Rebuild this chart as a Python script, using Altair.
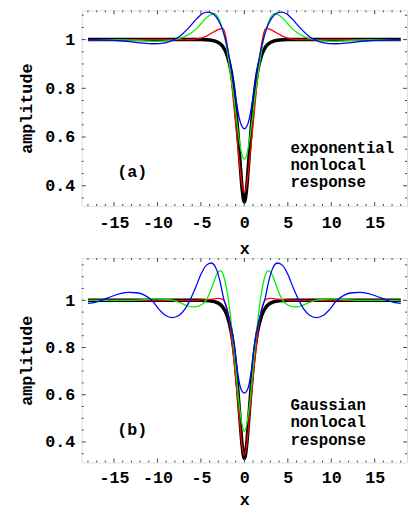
import altair as alt
import pandas as pd

# ---------------- data (x >= 0 half; curves are symmetric) ----
# panel (a): exponential nonlocal response
black_a_x = [0, 0.25, 0.5, 0.75, 1, 1.5, 2, 2.5, 3, 4, 5, 6, 18]
black_a_y = [0.333, 0.385, 0.498, 0.619, 0.723, 0.865, 0.938, 0.973, 0.988, 0.998, 1.0, 1.0, 1.0]
red_a_x = [0, 0.25, 0.5, 0.75, 1, 1.3, 1.6, 1.9, 2.2, 2.5, 2.8, 3.2, 3.6, 4.0, 4.5, 5.0, 5.5, 6.2, 18]
red_a_y = [0.37, 0.40, 0.47, 0.56, 0.65, 0.76, 0.87, 0.96, 1.022, 1.046, 1.044, 1.038, 1.030, 1.022, 1.012, 1.006, 1.002, 1.0, 1.0]
green_a_x = [0, 0.3, 0.6, 0.9, 1.2, 1.5, 1.8, 2.1, 2.5, 3.0, 3.5, 4.0, 4.5, 5.0, 5.5, 6.0, 7.0, 8.0, 9.0, 10.0, 11.0, 12.0, 14.0, 18]
green_a_y = [0.509, 0.53, 0.59, 0.67, 0.76, 0.84, 0.91, 0.98, 1.04, 1.09, 1.107, 1.10, 1.085, 1.065, 1.045, 1.03, 1.01, 1.0, 0.995, 0.993, 0.994, 0.996, 0.999, 1.0]
blue_a_x = [0, 0.3, 0.6, 0.9, 1.2, 1.5, 1.8, 2.1, 2.5, 3.0, 3.5, 4.0, 4.3, 4.8, 5.5, 6.5, 7.5, 8.2, 9.0, 10.5, 12.0, 13.5, 15.0, 16.5, 18]
blue_a_y = [0.634, 0.645, 0.68, 0.74, 0.81, 0.88, 0.94, 0.99, 1.04, 1.08, 1.103, 1.112, 1.113, 1.107, 1.085, 1.045, 1.012, 0.998, 0.988, 0.983, 0.987, 0.993, 0.997, 0.999, 1.0]

# panel (b): Gaussian nonlocal response
black_b_x = [0, 0.25, 0.5, 0.75, 1, 1.5, 2, 2.5, 3, 4, 5, 6, 18]
black_b_y = [0.33, 0.383, 0.496, 0.617, 0.722, 0.864, 0.937, 0.972, 0.988, 0.998, 1.0, 1.0, 1.0]
red_b_x = [0, 0.25, 0.5, 0.75, 1, 1.3, 1.6, 1.9, 2.2, 2.6, 3.0, 3.5, 4.5, 6, 18]
red_b_y = [0.344, 0.38, 0.47, 0.57, 0.67, 0.78, 0.88, 0.95, 0.99, 1.006, 1.008, 1.006, 1.002, 1.0, 1.0]
green_b_x = [0, 0.3, 0.6, 0.9, 1.2, 1.5, 1.8, 2.1, 2.4, 2.75, 3.1, 3.5, 4.0, 4.4, 5.0, 5.5, 6.05, 6.6, 7.3, 8.0, 9.0, 10.2, 11.5, 13, 18]
green_b_y = [0.445, 0.48, 0.56, 0.67, 0.79, 0.90, 0.99, 1.06, 1.105, 1.126, 1.115, 1.08, 1.03, 1.0, 0.98, 0.973, 0.972, 0.977, 0.988, 0.998, 1.004, 1.006, 1.003, 1.0, 1.0]
blue_b_x = [0, 0.4, 0.8, 1.2, 1.6, 2.0, 2.4, 2.8, 3.2, 3.8, 4.4, 5.0, 5.6, 6.2, 6.8, 7.5, 8.3, 9.1, 9.9, 10.6, 11.5, 12.4, 13.3, 14.3, 15.3, 16.3, 17.2, 18]
blue_b_y = [0.607, 0.625, 0.70, 0.82, 0.90, 0.96, 1.01, 1.08, 1.13, 1.158, 1.148, 1.11, 1.055, 1.005, 0.965, 0.937, 0.927, 0.937, 0.965, 0.998, 1.022, 1.032, 1.034, 1.028, 1.016, 1.002, 0.991, 0.987]

X_MAJOR = [-15, -10, -5, 0, 5, 10, 15]
X_MINOR = [-18, -17, -16, -14, -13, -12, -11, -9, -8, -7, -6, -4, -3, -2, -1,
           1, 2, 3, 4, 6, 7, 8, 9, 11, 12, 13, 14, 16, 17, 18]
Y_MAJOR = [0.4, 0.6, 0.8, 1.0]
Y_MINOR = [0.35, 0.45, 0.5, 0.55, 0.65, 0.7, 0.75, 0.85, 0.9, 0.95, 1.05, 1.1, 1.15]

tag_a = "(a)"
tag_b = "(b)"
note_a = ["exponential", "nonlocal", "response"]
note_b = ["Gaussian", "nonlocal", "response"]
tag_pos_a = (-12.9, 0.456)
tag_pos_b = (-12.9, 0.45)
note_pos_a = (5.3, 0.555)
note_pos_b = (5.3, 0.555)

CURVES = ["black", "red", "green", "blue"]
COLORS = {"black": "#000000", "red": "#ff0000", "green": "#00f000", "blue": "#0000ff"}
WIDTHS = {"black": 3.6, "red": 1.3, "green": 1.3, "blue": 1.3}

FONT = "Liberation Mono"
FRAME = "#444444"
W = 331


def mirror(xs, ys):
    X = [-v for v in reversed(xs[1:])] + list(xs)
    Y = list(reversed(ys[1:])) + list(ys)
    return X, Y


def curve_df(xs, ys):
    X, Y = mirror(xs, ys)
    return pd.DataFrame({"x": X, "y": Y})


common = dict(grid=False, domain=False, ticks=False,
              labelFont=FONT, labelFontSize=17, labelFontWeight="bold", labelColor="black",
              titleFont=FONT, titleFontSize=17, titleFontWeight="bold", titleColor="black")


def panel(curves, ydom, tag, tagp, note, notep, height, xlabel_pad, xtitle_pad):
    xs = alt.Scale(domain=[-18.72, 18.72], nice=False, zero=False)
    ys = alt.Scale(domain=ydom, nice=False, zero=False)
    layers = []
    for i, name in enumerate(CURVES):
        xs_, ys_ = curves[name]
        df = curve_df(xs_, ys_)
        if i == 0:
            xa = alt.Axis(orient="bottom", values=X_MAJOR,
                          labelPadding=xlabel_pad, title="x", titlePadding=xtitle_pad,
                          labelFlush=False, labelOverlap=False,
                          labelExpr="datum.value < 0 ? '-' + format(-datum.value, 'd') : format(datum.value, 'd')",
                          **common)
            ya = alt.Axis(orient="left", values=Y_MAJOR,
                          labelPadding=7, title="amplitude", titlePadding=9,
                          format="~g", labelFlush=False, labelOverlap=False, **common)
        else:
            xa = None
            ya = None
        layers.append(
            alt.Chart(df).mark_line(interpolate="monotone", clip=True,
                                    color=COLORS[name], strokeWidth=WIDTHS[name]).encode(
                x=alt.X("x:Q", scale=xs, axis=xa),
                y=alt.Y("y:Q", scale=ys, axis=ya),
            )
        )

    # frame ticks (inward), major 4 px, minor 2 px, on all four sides
    ymin_in = [v for v in Y_MINOR if ydom[0] <= v <= ydom[1]]
    for vals, ln in [(X_MAJOR, 4), (X_MINOR, 2)]:
        tdf = pd.DataFrame({"v": vals})
        for y0, y1 in [(0, ln), (height, height - ln)]:
            layers.append(
                alt.Chart(tdf).mark_rule(color=FRAME, strokeWidth=1).encode(
                    x=alt.X("v:Q", scale=xs, axis=None),
                    y=alt.value(y0), y2=alt.value(y1),
                )
            )
    for vals, ln in [(Y_MAJOR, 4), (ymin_in, 2)]:
        tdf = pd.DataFrame({"v": vals})
        for x0, x1 in [(0, ln), (W, W - ln)]:
            layers.append(
                alt.Chart(tdf).mark_rule(color=FRAME, strokeWidth=1).encode(
                    y=alt.Y("v:Q", scale=ys, axis=None),
                    x=alt.value(x0), x2=alt.value(x1),
                )
            )

    tdf = pd.DataFrame({"t": [tag], "x": [tagp[0]], "y": [tagp[1]]})
    layers.append(
        alt.Chart(tdf).mark_text(
            align="center", baseline="middle", font=FONT, fontSize=17,
            fontWeight="bold", color="black").encode(
            x=alt.X("x:Q", scale=xs, axis=None),
            y=alt.Y("y:Q", scale=ys, axis=None),
            text="t:N",
        )
    )
    ndf = pd.DataFrame({"t": ["\n".join(note)], "x": [notep[0]], "y": [notep[1]]})
    layers.append(
        alt.Chart(ndf).mark_text(
            align="left", baseline="middle", font=FONT, fontSize=16, lineBreak="\n",
            lineHeight=17.5, fontWeight="bold", color="black").encode(
            x=alt.X("x:Q", scale=xs, axis=None),
            y=alt.Y("y:Q", scale=ys, axis=None),
            text="t:N",
        )
    )
    return alt.layer(*layers).resolve_axis(x="independent", y="independent").properties(
        width=W, height=height)


curves_a = {"black": (black_a_x, black_a_y), "red": (red_a_x, red_a_y),
            "green": (green_a_x, green_a_y), "blue": (blue_a_x, blue_a_y)}
curves_b = {"black": (black_b_x, black_b_y), "red": (red_b_x, red_b_y),
            "green": (green_b_x, green_b_y), "blue": (blue_b_x, blue_b_y)}

pa = panel(curves_a, [0.317, 1.12], tag_a, tag_pos_a, note_a, note_pos_a, 199, 9, 10)
pb = panel(curves_b, [0.313, 1.179], tag_b, tag_pos_b, note_b, note_pos_b, 208, 7, 7)

chart = alt.vconcat(pa, pb, spacing=0).properties(
    padding={"left": 9, "top": -3, "right": 0, "bottom": 0}
).configure_view(stroke=FRAME, strokeWidth=1).configure(background="white")

chart.save("out.html", embed_options={"renderer": "svg", "actions": False})
